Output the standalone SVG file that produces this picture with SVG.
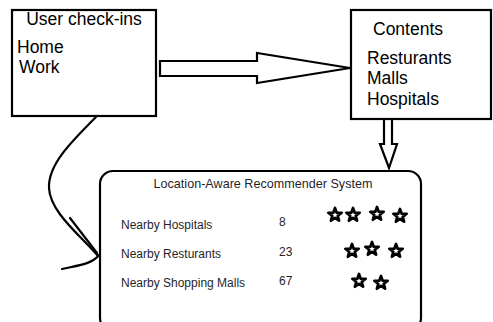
<svg xmlns="http://www.w3.org/2000/svg" width="493" height="322" viewBox="0 0 493 322">
  <defs>
    <style>
      .box { fill: #ffffff; stroke: #000000; stroke-width: 2.2; }
      .big { font-family: "Liberation Sans", Arial, sans-serif; font-size: 17.5px; fill: #000000; }
      .small { font-family: "Liberation Sans", Arial, sans-serif; font-size: 12px; fill: #1f1f2a; }
      .title { font-size: 12.6px; }
      .conn { fill: #ffffff; stroke: #000000; stroke-width: 2.2; stroke-linejoin: miter; }
      .line { fill: none; stroke: #000000; stroke-width: 2.2; stroke-linecap: round; }
      .star { fill: #ffffff; stroke: #000000; stroke-width: 2.7; stroke-linejoin: round; }
    </style>
    <polygon id="star" points="0,-7 1.7,-2.3 6.7,-2.2 2.7,0.9 4.1,5.7 0,2.8 -4.1,5.7 -2.7,0.9 -6.7,-2.2 -1.7,-2.3"/>
  </defs>

  <rect width="493" height="322" fill="#ffffff"/>

  <g id="connectors">
    <polygon class="conn" points="160,61 257,61 257,53 350,68 257,83 257,76 160,76"/>
    <polygon class="conn" points="384,119 392,119 392,144 397,144 389,168 380,144 384,144"/>
    <path class="line" d="M96,117 C70,143 48,165 49,188 C50,212 80,235 98,256"/>
    <path class="line" d="M70,218 L97,253"/>
    <path class="line" d="M62,269 C80,265 92,264 99,255"/>
  </g>

  <g id="user-checkins">
    <rect class="box" x="12" y="10" width="144" height="106"/>
    <text class="big" x="84" y="25" text-anchor="middle">User check-ins</text>
    <text class="big" x="17" y="53">Home</text>
    <text class="big" x="19" y="73">Work</text>
  </g>

  <g id="contents">
    <rect class="box" x="351" y="10" width="140" height="109"/>
    <text class="big" x="373" y="35">Contents</text>
    <text class="big" x="367" y="64">Resturants</text>
    <text class="big" x="367" y="84">Malls</text>
    <text class="big" x="367" y="105">Hospitals</text>
  </g>

  <g id="recommender">
    <rect class="box" x="100" y="171" width="321" height="160" rx="13" ry="13"/>
    <text class="small title" x="263" y="188" text-anchor="middle">Location-Aware Recommender System</text>
    <text class="small" x="121" y="229">Nearby Hospitals</text>
    <text class="small" x="121" y="258">Nearby Resturants</text>
    <text class="small" x="121" y="287">Nearby Shopping Malls</text>
    <text class="small" x="279" y="226">8</text>
    <text class="small" x="279" y="256">23</text>
    <text class="small" x="279" y="285">67</text>
    <use href="#star" class="star" x="335" y="215"/>
    <use href="#star" class="star" x="353" y="215"/>
    <use href="#star" class="star" x="377" y="214"/>
    <use href="#star" class="star" x="400" y="216"/>
    <use href="#star" class="star" x="352" y="251"/>
    <use href="#star" class="star" x="372" y="249"/>
    <use href="#star" class="star" x="396" y="251"/>
    <use href="#star" class="star" x="359" y="281"/>
    <use href="#star" class="star" x="381" y="283"/>
  </g>
</svg>
